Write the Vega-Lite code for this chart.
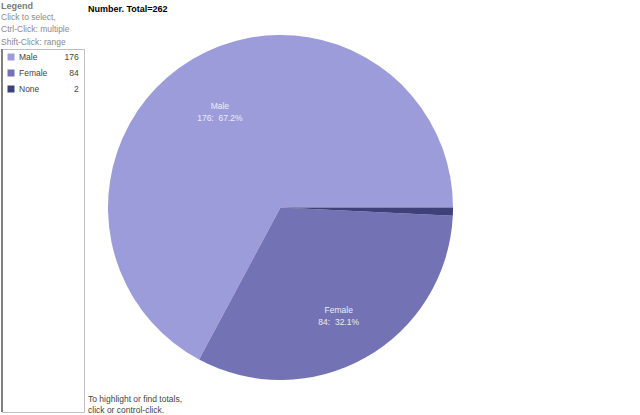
{
  "$schema": "https://vega.github.io/schema/vega-lite/v6.json",
  "padding": {"left": 0, "top": 1, "right": 0, "bottom": 0},
  "background": "white",
  "config": {"font": "Liberation Sans", "view": {"stroke": null}, "concat": {"spacing": 3}},
  "datasets": {
    "genders": [
      {"gender": "Male", "count": 176, "label": "Male\n176:\u00a0\u00a067.2%"},
      {"gender": "Female", "count": 84, "label": "Female\n84:\u00a0\u00a032.1%"},
      {"gender": "None", "count": 2, "label": ""}
    ]
  },
  "resolve": {"scale": {"color": "independent", "y": "independent", "theta": "independent", "x": "independent"}},
  "hconcat": [
    {
      "width": 82,
      "height": 363,
      "view": {"stroke": "#c0c0c0", "strokeWidth": 1},
      "title": {
        "text": "Legend",
        "subtitle": ["Click to select,", "Ctrl-Click: multiple", "Shift-Click: range"],
        "anchor": "start",
        "fontSize": 9,
        "fontWeight": "bold",
        "color": "#7a7a7a",
        "subtitleFontSize": 8.5,
        "subtitleColor": "#8a8a8a",
        "subtitleLineHeight": 12.5,
        "subtitlePadding": 1.5,
        "offset": 2
      },
      "layer": [
        {
          "data": {"values": [{"edge": 0}]},
          "mark": {"type": "rule", "color": "#7f7f7f", "strokeWidth": 2},
          "encoding": {
            "x": {"field": "edge", "type": "quantitative", "scale": {"domain": [0, 1]}, "axis": null}
          }
        },
        {
          "data": {"name": "genders"},
          "mark": {"type": "square", "size": 49, "opacity": 1, "filled": true, "xOffset": -32},
          "encoding": {
            "y": {"field": "gender", "type": "nominal", "scale": {"type": "point", "domain": ["Male", "Female", "None"], "range": [8, 40], "padding": 0}, "axis": null},
            "color": {"field": "gender", "type": "nominal", "scale": {"domain": ["Male", "Female", "None"], "range": ["#9d9cdb", "#7372b4", "#3e4079"]}, "legend": null}
          }
        },
        {
          "data": {"name": "genders"},
          "mark": {"type": "text", "align": "left", "baseline": "middle", "dx": -24, "fontSize": 8.5, "color": "#444444"},
          "encoding": {
            "y": {"field": "gender", "type": "nominal", "scale": {"type": "point", "domain": ["Male", "Female", "None"], "range": [8, 40], "padding": 0}, "axis": null},
            "text": {"field": "gender"}
          }
        },
        {
          "data": {"name": "genders"},
          "mark": {"type": "text", "align": "right", "baseline": "middle", "dx": 35.7, "fontSize": 8.5, "color": "#444444"},
          "encoding": {
            "y": {"field": "gender", "type": "nominal", "scale": {"type": "point", "domain": ["Male", "Female", "None"], "range": [8, 40], "padding": 0}, "axis": null},
            "text": {"field": "count"}
          }
        }
      ]
    },
    {
      "title": {
        "text": ["To highlight or find totals,", "click or control-click."],
        "orient": "bottom",
        "anchor": "start",
        "fontSize": 8.5,
        "fontWeight": "normal",
        "color": "#444444",
        "lineHeight": 10.5,
        "offset": 15
      },
      "vconcat": [
        {
          "data": {"name": "genders"},
          "width": 385,
          "height": 317,
          "title": {"text": "Number. Total=262", "anchor": "start", "fontSize": 9, "fontWeight": "bold", "color": "#000000", "offset": 21},
          "encoding": {
            "theta": {"field": "count", "type": "quantitative", "stack": true, "scale": {"range": [1.5707963, 7.8539816]}},
            "order": {"field": "count", "sort": "ascending"},
            "color": {"field": "gender", "type": "nominal", "scale": {"domain": ["Male", "Female", "None"], "range": ["#9d9cdb", "#7372b4", "#3e4079"]}, "legend": null}
          },
          "layer": [
            {"mark": {"type": "arc", "outerRadius": 172.5}},
            {
              "mark": {"type": "text", "radius": 118, "fontSize": 8.5, "lineBreak": "\n", "lineHeight": 12, "baseline": "middle"},
              "encoding": {"text": {"field": "label"}, "color": {"value": "#ececf6"}}
            }
          ]
        }
      ]
    }
  ]
}
